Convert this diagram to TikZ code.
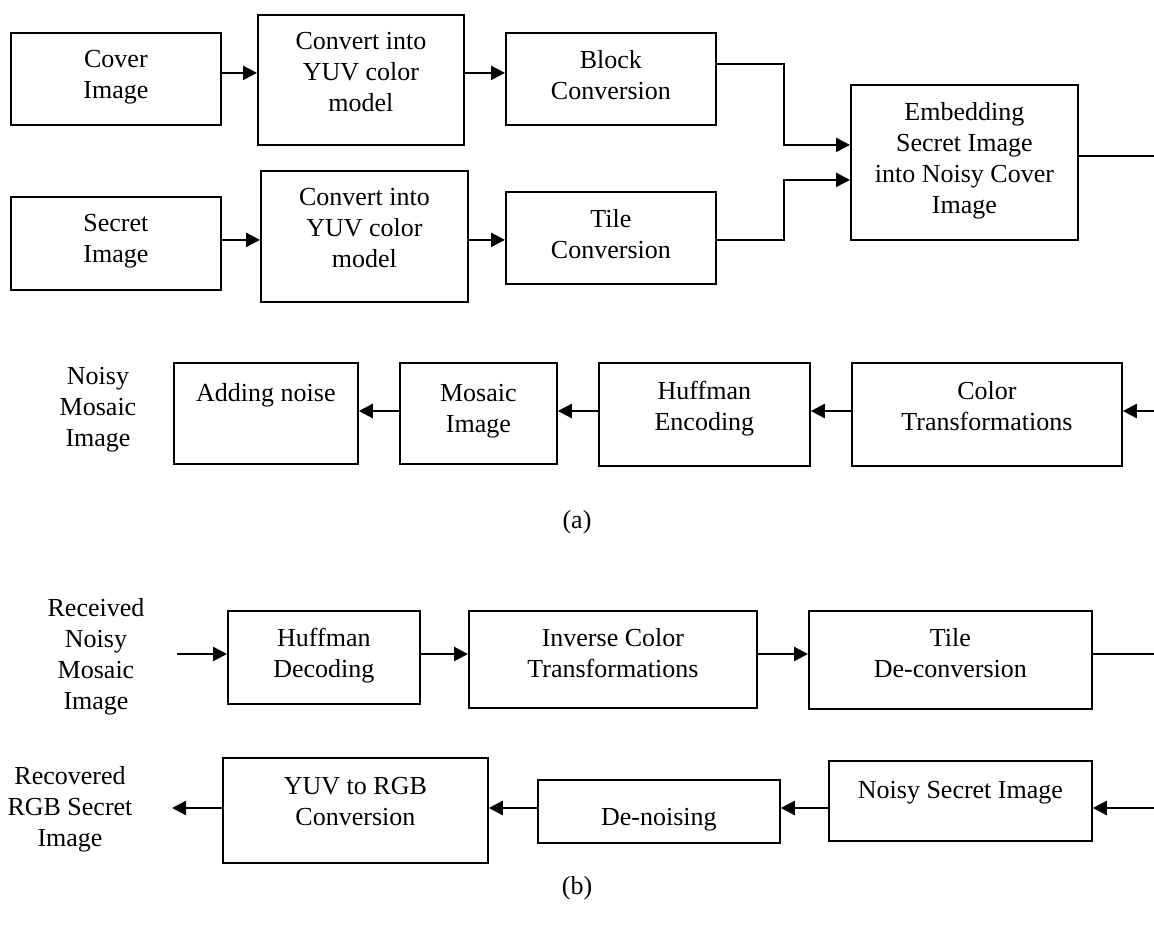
\documentclass[tikz,border=0pt]{standalone}
\usepackage{fontspec}
\setmainfont{Liberation Serif}
\usetikzlibrary{arrows.meta}
\begin{document}
\begin{tikzpicture}[x=1pt,y=-1pt,
  box/.style={draw, line width=1.8pt, rectangle, inner sep=0pt, anchor=north west},
  txt/.style={font=\fontsize{26}{31}\selectfont, align=center, inner sep=0pt, anchor=north},
  conn/.style={line width=2.5pt},
  arr/.style={line width=2.5pt, -{Triangle[length=14pt,width=14pt]}}]
\useasboundingbox (0,0) rectangle (1154,927);
% ---------- (a) ----------
\node[box, minimum width=210pt, minimum height=92pt] (cover) at (10,32) {};
\node[txt] at ([yshift=-18pt]cover.north) {Cover\\Image};
\node[box, minimum width=206pt, minimum height=130pt] (conv1) at (257,14) {};
\node[txt] at ([yshift=-18pt]conv1.north) {Convert into\\YUV color\\model};
\node[box, minimum width=210pt, minimum height=92pt] (block) at (505,32) {};
\node[txt] at ([yshift=-18pt]block.north) {Block\\Conversion};
\node[box, minimum width=210pt, minimum height=93pt] (secret) at (10,196) {};
\node[txt] at ([yshift=-18pt]secret.north) {Secret\\Image};
\node[box, minimum width=207pt, minimum height=131pt] (conv2) at (260,170) {};
\node[txt] at ([yshift=-18pt]conv2.north) {Convert into\\YUV color\\model};
\node[box, minimum width=210pt, minimum height=92pt] (tile) at (505,191) {};
\node[txt] at ([yshift=-18pt]tile.north) {Tile\\Conversion};
\node[box, minimum width=227pt, minimum height=155pt] (embed) at (850,84) {};
\node[txt] at ([yshift=-18pt]embed.north) {Embedding\\Secret Image\\into Noisy Cover\\Image};
\node[box, minimum width=270pt, minimum height=103pt] (color) at (851,362) {};
\node[txt] at ([yshift=-19pt]color.north) {Color\\Transformations};
\node[box, minimum width=211pt, minimum height=103pt] (huffenc) at (598,362) {};
\node[txt] at ([yshift=-19pt]huffenc.north) {Huffman\\Encoding};
\node[box, minimum width=157pt, minimum height=101pt] (mosaic) at (399,362) {};
\node[txt] at ([yshift=-22pt]mosaic.north) {Mosaic\\Image};
\node[box, minimum width=184pt, minimum height=101pt] (adding) at (173,362) {};
\node[txt] at ([yshift=-21pt]adding.north) {Adding noise};
\node[txt] (noisylbl) at (98,367) {Noisy\\Mosaic\\Image};
\node[txt, anchor=center] (la) at (577,522) {(a)};
\draw[arr] ([yshift=6pt]cover.east) -- ([yshift=6pt]cover.east -| conv1.west);
\draw[arr] ([yshift=7pt]conv1.east) -- ([yshift=7pt]conv1.east -| block.west);
\draw[arr] ([yshift=3.5pt]secret.east) -- ([yshift=3.5pt]secret.east -| conv2.west);
\draw[arr] ([yshift=-3.5pt]conv2.east) -- ([yshift=-3.5pt]conv2.east -| tile.west);
\draw[arr] ([yshift=15pt]block.east) -- ++(67,0) |- ([yshift=17.5pt]embed.west);
\draw[arr] ([yshift=-2pt]tile.east) -- ++(67,0) |- ([yshift=-17.5pt]embed.west);
\coordinate (eR) at (1154,156);
\draw[conn] (eR -| embed.east) -- (eR);
\coordinate (cR) at (1154,411);
\draw[arr] (cR) -- (cR -| color.east);
\draw[arr] (cR -| color.west) -- (cR -| huffenc.east);
\draw[arr] (cR -| huffenc.west) -- (cR -| mosaic.east);
\draw[arr] (cR -| mosaic.west) -- (cR -| adding.east);
% ---------- (b) ----------
\node[box, minimum width=192pt, minimum height=93pt] (huffdec) at (227,610) {};
\node[txt] at ([yshift=-18pt]huffdec.north) {Huffman\\Decoding};
\node[box, minimum width=288pt, minimum height=97pt] (inverse) at (468,610) {};
\node[txt] at ([yshift=-18pt]inverse.north) {Inverse Color\\Transformations};
\node[box, minimum width=283pt, minimum height=98pt] (tilede) at (808,610) {};
\node[txt] at ([yshift=-18pt]tilede.north) {Tile\\De-conversion};
\node[box, minimum width=263pt, minimum height=80pt] (noisysec) at (828,760) {};
\node[txt] at ([yshift=-21pt]noisysec.north) {Noisy Secret Image};
\node[box, minimum width=242pt, minimum height=63pt] (denoise) at (537,779) {};
\node[txt] at ([yshift=-29pt]denoise.north) {De-noising};
\node[box, minimum width=265pt, minimum height=105pt] (yuvrgb) at (222,757) {};
\node[txt] at ([yshift=-20pt]yuvrgb.north) {YUV to RGB\\Conversion};
\node[txt] (recv) at (96,598) {Received\\Noisy\\Mosaic\\Image};
\node[txt] (recov) at (70,766) {Recovered\\RGB Secret\\Image};
\node[txt, anchor=center] (lb) at (577,888) {(b)};
\coordinate (r1in) at (177,654);
\coordinate (r1out) at (1154,654);
\draw[arr] (r1in) -- (r1in -| huffdec.west);
\draw[arr] (r1in -| huffdec.east) -- (r1in -| inverse.west);
\draw[arr] (r1in -| inverse.east) -- (r1in -| tilede.west);
\draw[conn] (r1in -| tilede.east) -- (r1out);
\coordinate (r2in) at (1154,808);
\coordinate (r2out) at (172,808);
\draw[arr] (r2in) -- (r2in -| noisysec.east);
\draw[arr] (r2in -| noisysec.west) -- (r2in -| denoise.east);
\draw[arr] (r2in -| denoise.west) -- (r2in -| yuvrgb.east);
\draw[arr] (r2in -| yuvrgb.west) -- (r2out);
\end{tikzpicture}
\end{document}
